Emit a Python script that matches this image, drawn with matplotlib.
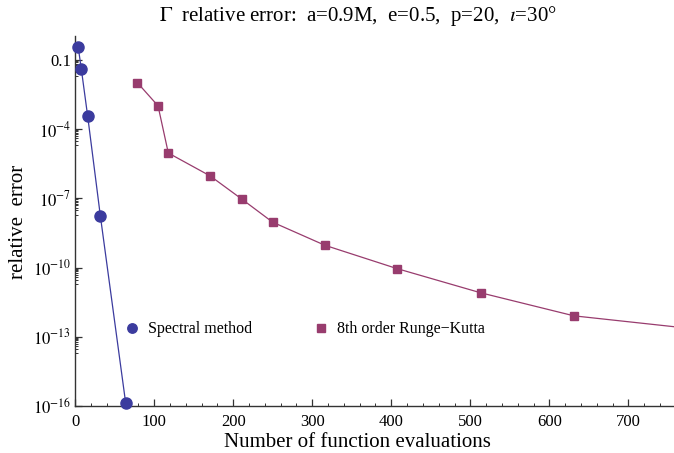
import numpy as np
import matplotlib
matplotlib.use("Agg")
import matplotlib.pyplot as plt
from matplotlib.ticker import FixedLocator, FuncFormatter

# Convergence data: number of function evaluations vs relative error
spectral_evals = [4, 8, 16, 32, 64]
spectral_err = [0.37, 0.040, 3.7e-4, 1.8e-8, 1.4e-16]

rk8_evals = [79, 105, 118, 171, 211, 250, 316, 407, 513, 631, 875]
rk8_err = [1.03e-2, 1.03e-3, 9.3e-6, 9.4e-7, 9.3e-8, 9.3e-9, 9.3e-10,
           9.1e-11, 8.1e-12, 8.1e-13, 1.0e-13]

spectral_label = "Spectral method"
rk8_label = "8th order Runge\u2212Kutta"
title_text = r"$\Gamma$  relative error:  a=0.9M,  e=0.5,  p=20,  $\iota$=30°"
xlabel_text = "Number of function evaluations"
ylabel_text = "relative  error"

x_major = [0, 100, 200, 300, 400, 500, 600, 700]
y_major_exp = [-1, -4, -7, -10, -13, -16]

plt.rcParams["font.family"] = ["Liberation Serif", "DejaVu Serif"]
plt.rcParams["mathtext.fontset"] = "stix"

blue = "#3b3b9e"
purple = "#983c6e"
axis_color = "#333333"

fig = plt.figure(figsize=(6.74, 4.53), dpi=100)
ax = fig.add_axes([0.1113, 0.1038, 0.8880, 0.8167])

ax.plot(spectral_evals, spectral_err, color=blue, lw=0.9, marker="o",
        ms=8, mfc=blue, mec=blue, label=spectral_label, clip_on=False, zorder=3)
ax.plot(rk8_evals, rk8_err, color=purple, lw=0.9, marker="s",
        ms=6, mfc=purple, mec=purple, label=rk8_label, zorder=3)

ax.set_yscale("log")
ax.set_xlim(0, 757)
ax.set_ylim(1e-16, 1.1)

# Axes drawn only on left and bottom
for s in ("top", "right"):
    ax.spines[s].set_visible(False)
for s in ("left", "bottom"):
    ax.spines[s].set_color(axis_color)
    ax.spines[s].set_linewidth(1.0)

ax.xaxis.set_major_locator(FixedLocator(x_major))
ax.xaxis.set_minor_locator(FixedLocator(np.arange(0, 757, 20)))
ax.set_xticklabels([str(v) for v in x_major])

y_major = [10.0 ** e for e in y_major_exp]
y_minor = [k * 10.0 ** (e - 1) for e in y_major_exp for k in range(2, 10)]
ax.yaxis.set_major_locator(FixedLocator(y_major))
ax.yaxis.set_minor_locator(FixedLocator(y_minor))

def ylab(v, pos):
    e = int(round(np.log10(v)))
    if e == -1:
        return "0.1"
    return r"$10^{%d}$" % e

ax.yaxis.set_major_formatter(FuncFormatter(ylab))
ax.yaxis.set_minor_formatter(FuncFormatter(lambda v, p: ""))

ax.tick_params(axis="both", which="major", direction="in", length=5,
               width=0.9, color=axis_color, labelsize=12, pad=6)
ax.tick_params(axis="both", which="minor", direction="in", length=2.5,
               width=0.7, color=axis_color)
ax.tick_params(axis="y", which="major", labelsize=12, pad=3)

fig.text(0.531, 0.964, title_text, ha="center", va="center", fontsize=15)
fig.text(0.53, 0.024, xlabel_text, ha="center", va="center", fontsize=15)
fig.text(0.027, 0.51, ylabel_text, ha="center", va="center", fontsize=15,
         rotation=90)

leg = ax.legend(loc="center left", bbox_to_anchor=(0.058, 0.207), ncol=2,
                frameon=False, fontsize=11.5, handlelength=1.0,
                handletextpad=0.5, columnspacing=3.8, numpoints=1,
                markerscale=0.85)
for h in leg.legend_handles:
    h.set_linestyle("none")

fig.savefig("out.png", dpi=100)
